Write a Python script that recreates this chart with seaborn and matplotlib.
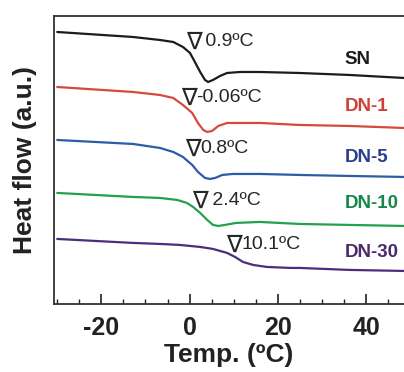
import numpy as np
import pandas as pd
import matplotlib
matplotlib.use("Agg")
import matplotlib.pyplot as plt
import seaborn as sns

# DSC curves (temperature in C, heat flow in a.u.)
sn_t = [-30.0, -12.8, -6.7, -3.7, -1.5, 0.1, 1.2, 2.4, 3.5, 4.2, 5.3, 6.9, 8.5, 11.4, 15.9, 24.9, 36.3, 48.6]
sn_hf = [272, 267, 264, 262, 257, 251, 242, 232, 224, 222, 224, 228, 231, 232, 232, 231, 229, 226]

dn1_t = [-30.0, -12.8, -6.7, -3.7, -1.5, 0.6, 1.9, 3.1, 4.0, 5.1, 6.5, 8.5, 12.1, 16.0, 24.9, 36.3, 48.6]
dn1_hf = [217, 212, 209, 206, 199, 191, 181, 174, 172, 173, 178, 181, 181, 181, 179, 178, 176]

dn5_t = [-30.0, -12.8, -6.7, -3.7, -1.5, 0.6, 1.9, 3.5, 4.6, 5.8, 7.4, 9.8, 16.0, 24.9, 36.3, 48.6]
dn5_hf = [164, 160, 156, 152, 147, 139, 132, 126, 125, 126, 129, 130, 130, 129, 128, 127]

dn10_t = [-30.0, -12.8, -6.7, -2.8, -0.6, 0.8, 2.4, 4.0, 5.3, 6.5, 8.0, 10.5, 15.9, 24.9, 36.3, 48.6]
dn10_hf = [111, 107, 106, 104, 101, 97, 91, 84, 79, 78, 79, 81, 82, 80, 79, 78]

dn30_t = [-30.0, -12.8, -6.7, -2.2, 2.4, 5.3, 8.5, 10.3, 12.1, 14.4, 17.5, 22.8, 24.9, 36.3, 48.6]
dn30_hf = [65, 61, 60, 59, 57, 55, 51, 47, 42, 39, 37, 36, 36, 34, 33]

samples = ["SN", "DN-1", "DN-5", "DN-10", "DN-30"]
onsets = [0.9, -0.06, 0.8, 2.4, 10.1]
onset_labels = [" 0.9\u00baC", "-0.06\u00baC", "0.8\u00baC", " 2.4\u00baC", "10.1\u00baC"]

line_colors = {"SN": "#1c1c1c", "DN-1": "#d64a3b", "DN-5": "#2d5ca6", "DN-10": "#25a04c", "DN-30": "#4b2d7d"}
label_colors = ["#1c1c1c", "#cf4136", "#293f8d", "#15874a", "#4b2a6b"]

curves = [(sn_t, sn_hf), (dn1_t, dn1_hf), (dn5_t, dn5_hf), (dn10_t, dn10_hf), (dn30_t, dn30_hf)]
df = pd.concat(
    [pd.DataFrame({"Temp": t, "HF": hf, "Sample": s}) for s, (t, hf) in zip(samples, curves)],
    ignore_index=True,
)

sns.set_style("ticks")
plt.rcParams["font.family"] = ["Liberation Sans", "DejaVu Sans"]
plt.rcParams["axes.unicode_minus"] = False

fig = plt.figure(figsize=(4.04, 3.72), dpi=100)
ax = fig.add_axes([0.134, 0.183, 0.866, 0.774])

sns.lineplot(data=df, x="Temp", y="HF", hue="Sample", palette=line_colors,
             sort=False, legend=False, linewidth=1.6, ax=ax)

# onset annotations: open triangle over the onset temperature, value to its right
ann_y = [262, 206, 155, 103, 59]
for on, txt, yy in zip(onsets, onset_labels, ann_y):
    ax.text(on, yy, "\u2207", fontsize=17, family="DejaVu Sans", color="#262626",
            ha="center", va="center")
    ax.annotate(txt, (on, yy), xytext=(5, 0), textcoords="offset points",
                fontsize=14, color="#262626", ha="left", va="center")

# sample names on the right
name_y = [244, 197, 146, 100, 51]
for s, c, yy in zip(samples, label_colors, name_y):
    ax.text(35.2, yy, s, fontsize=13.5, fontweight="bold", color=c, ha="left", va="center")

ax.set_xlim(-30.7, 48.6)
ax.set_ylim(0, 288)
ax.set_xticks([-20, 0, 20, 40])
ax.set_xticks(np.arange(-30, 50, 5), minor=True)
ax.set_yticks([])
ax.tick_params(axis="x", which="major", direction="in", length=7, width=1.2,
               labelsize=18, pad=9, colors="#222222")
ax.tick_params(axis="x", which="minor", direction="in", length=3.5, width=1.0, colors="#222222")
for lab in ax.get_xticklabels():
    lab.set_fontweight("bold")

for side in ["left", "bottom", "top"]:
    ax.spines[side].set_color("#333333")
    ax.spines[side].set_linewidth(1.3)
ax.spines["right"].set_visible(False)

ax.set_xlabel("Temp. (\u00baC)", fontsize=19, fontweight="bold", labelpad=2, color="#222222")
ax.set_ylabel("Heat flow (a.u.)", fontsize=19, fontweight="bold", labelpad=12, color="#222222")

fig.savefig("out.png", dpi=100)
